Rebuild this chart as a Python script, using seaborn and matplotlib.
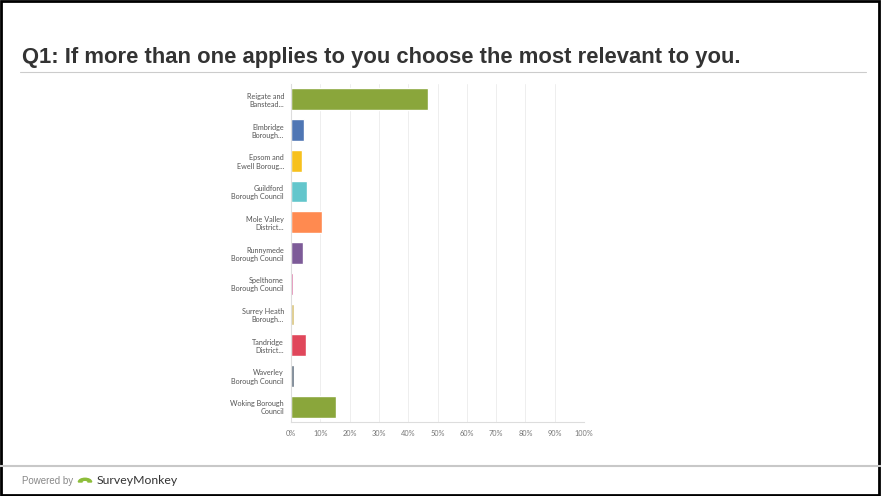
import matplotlib
matplotlib.use("Agg")
import matplotlib.pyplot as plt
import matplotlib.patches as mpatches
import seaborn as sns

# Council answers, share of respondents (%)
councils = [
    "Reigate and\nBanstead...",
    "Elmbridge\nBorough...",
    "Epsom and\nEwell Boroug...",
    "Guildford\nBorough Council",
    "Mole Valley\nDistrict...",
    "Runnymede\nBorough Council",
    "Spelthorne\nBorough Council",
    "Surrey Heath\nBorough...",
    "Tandridge\nDistrict...",
    "Waverley\nBorough Council",
    "Woking Borough\nCouncil",
]
shares = [46.6, 4.6, 3.7, 5.6, 10.5, 4.2, 0.6, 0.9, 5.2, 0.9, 15.3]
bar_colors = [
    "#8aa63b", "#4f76b4", "#f7c11e", "#63c6cc", "#ff8a50", "#7d5b98",
    "#d8609a", "#d9c47a", "#e0475b", "#687585", "#8aa63b",
]
tick_vals = list(range(0, 101, 10))
tick_labels = [f"{v}%" for v in tick_vals]

title = "Q1: If more than one applies to you choose the most relevant to you."

sns.set_style("white")
plt.rcParams["font.family"] = ["Liberation Sans", "DejaVu Sans"]

fig = plt.figure(figsize=(8.81, 4.96), dpi=100)
ax = fig.add_axes([0.3303, 0.1492, 0.3326, 0.6814])

sns.barplot(x=shares, y=councils, hue=councils, palette=bar_colors,
            legend=False, width=0.71, saturation=1, ax=ax)

ax.set_xlim(0, 100)
ax.set_xticks(tick_vals)
ax.set_xticklabels(tick_labels, fontsize=5.3, color="#777777", family="Lato")
ax.tick_params(axis="x", length=0, pad=6)
ax.tick_params(axis="y", length=0, pad=5)
for lab in ax.get_yticklabels():
    lab.set_fontsize(5.2)
    lab.set_color("#555555")
    lab.set_family("Lato")
    lab.set_multialignment("right")
ax.set_xlabel("")
ax.set_ylabel("")
ax.grid(axis="x", color="#eeeeee", linewidth=0.7)
ax.set_axisbelow(True)
for side in ["top", "right"]:
    ax.spines[side].set_visible(False)
for side in ["left", "bottom"]:
    ax.spines[side].set_color("#dddddd")
    ax.spines[side].set_linewidth(0.8)

# page furniture
fig.text(22 / 881, 1 - 63 / 496, title, fontsize=15.8, fontweight="bold",
         color="#333333", va="baseline", ha="left")
fig.add_artist(plt.Line2D([20 / 881, 866 / 881], [1 - 72 / 496, 1 - 72 / 496],
                          color="#cccccc", linewidth=0.8))
fig.add_artist(plt.Line2D([0, 1], [1 - 466 / 496, 1 - 466 / 496],
                          color="#c8c8c8", linewidth=1.5))
fig.text(22 / 881, 1 - 484 / 496, "Powered by", fontsize=7, color="#888888",
         va="baseline", ha="left")
fig.add_artist(mpatches.Wedge((85 / 881, 1 - 482 / 496), 0.0075, 0, 180,
                              width=0.004, color="#8dbd3a",
                              transform=fig.transFigure))
fig.text(97 / 881, 1 - 484 / 496, "SurveyMonkey", fontsize=8.8,
         color="#333333", va="baseline", ha="left", family="Lato")
fig.add_artist(mpatches.Rectangle((0.001, 0.002), 0.997, 0.995, fill=False,
                                  edgecolor="black", linewidth=2,
                                  transform=fig.transFigure))

fig.savefig("out.png", dpi=100)
